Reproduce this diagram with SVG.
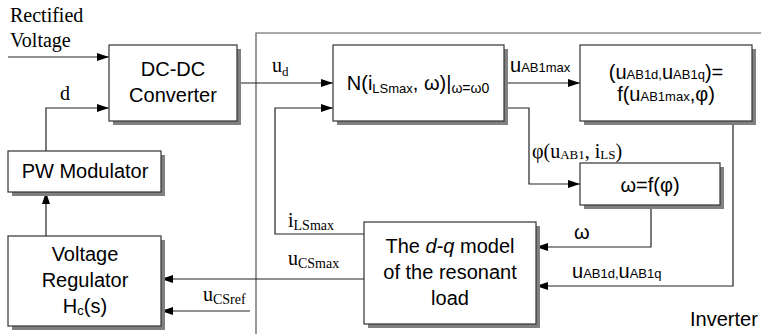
<svg xmlns="http://www.w3.org/2000/svg" width="761" height="334" viewBox="0 0 761 334">
<style>
.box{fill:#fff;stroke:#333;stroke-width:1.2}
.sh{fill:#808080}
.ln{fill:none;stroke:#222;stroke-width:1.2}
.fr{fill:none;stroke:#555;stroke-width:1.2}
.s{font-family:"Liberation Sans",Arial,sans-serif;font-size:20px;fill:#000}
.t{font-family:"Liberation Serif","Times New Roman",serif;font-size:20px;fill:#000}
.c{text-anchor:middle}
</style>
<defs>
<marker id="ah" markerUnits="userSpaceOnUse" markerWidth="13" markerHeight="9" refX="12" refY="4" orient="auto">
<path d="M0,0 L12,4 L0,8 z" fill="#000"/>
</marker>
</defs>

<g id="inverter-frame">
<path class="fr" d="M256,334 V33 H761"/>
<text class="s" x="690" y="326">Inverter</text>
</g>

<g id="connectors">
<path class="ln" d="M8,57 H109" marker-end="url(#ah)"/>
<path class="ln" d="M46,151 V108 H109" marker-end="url(#ah)"/>
<path class="ln" d="M46,236 V192" marker-end="url(#ah)"/>
<path class="ln" d="M237,83 H333" marker-end="url(#ah)"/>
<path class="ln" d="M364,234 H275 V108 H333" marker-end="url(#ah)"/>
<path class="ln" d="M504,83 H580" marker-end="url(#ah)"/>
<path class="ln" d="M504,108 H529 V184 H580" marker-end="url(#ah)"/>
<path class="ln" d="M651,205 V247 H536" marker-end="url(#ah)"/>
<path class="ln" d="M733,121 V286 H536" marker-end="url(#ah)"/>
<path class="ln" d="M364,279 H161" marker-end="url(#ah)"/>
<path class="ln" d="M250,311 H161" marker-end="url(#ah)"/>
</g>

<g id="labels">
<text class="t" x="10" y="22">Rectified</text>
<text class="t" x="10" y="47">Voltage</text>
<text class="t" x="60" y="100">d</text>
<text class="t" x="272" y="72">u<tspan font-size="13" dy="4">d</tspan></text>
<text class="s" x="510" y="72" font-size="21">u<tspan font-size="13" dy="0">AB1max</tspan></text>
<text class="t" x="532" y="158">φ(u<tspan font-size="13" dy="1">AB1</tspan><tspan dy="-1">, i</tspan><tspan font-size="13" dy="1">LS</tspan><tspan dy="-1">)</tspan></text>
<text class="s" x="574" y="239">ω</text>
<text class="s" x="572" y="278">u<tspan font-size="13">AB1d,</tspan>u<tspan font-size="13">AB1q</tspan></text>
<text class="t" x="288" y="227">i<tspan font-size="14" dy="3">LSmax</tspan></text>
<text class="t" x="288" y="265">u<tspan font-size="14" dy="3">CSmax</tspan></text>
<text class="t" x="203" y="301">u<tspan font-size="14" dy="3">CSref</tspan></text>
</g>

<g id="dcdc">
<rect class="sh" x="113" y="49" width="128" height="76"/>
<rect class="box" x="109" y="45" width="128" height="76"/>
<text class="s c" x="173" y="76">DC-DC</text>
<text class="s c" x="173" y="102">Converter</text>
</g>

<g id="pwm">
<rect class="sh" x="12" y="155" width="153" height="41"/>
<rect class="box" x="8" y="151" width="153" height="41"/>
<text class="s c" x="85" y="178">PW Modulator</text>
</g>

<g id="regulator">
<rect class="sh" x="12" y="240" width="153" height="90"/>
<rect class="box" x="8" y="236" width="153" height="90"/>
<text class="s c" x="85" y="261">Voltage</text>
<text class="s c" x="85" y="287">Regulator</text>
<text class="s c" x="85" y="313">H<tspan font-size="13" dy="2">c</tspan><tspan dy="-2">(s)</tspan></text>
</g>

<g id="nblock">
<rect class="sh" x="337" y="49" width="171" height="76"/>
<rect class="box" x="333" y="45" width="171" height="76"/>
<text class="s c" x="418" y="90">N(i<tspan font-size="13" dy="3">LSmax</tspan><tspan dy="-3">, ω)|</tspan><tspan font-size="14" dy="3">ω=ω0</tspan></text>
</g>

<g id="fblock">
<rect class="sh" x="584" y="49" width="172" height="76"/>
<rect class="box" x="580" y="45" width="172" height="76"/>
<text class="s c" x="666" y="79">(u<tspan font-size="13">AB1d,</tspan>u<tspan font-size="13">AB1q</tspan>)=</text>
<text class="s c" x="666" y="101">f(u<tspan font-size="13">AB1max</tspan>,φ)</text>
</g>

<g id="wblock">
<rect class="sh" x="584" y="167" width="140" height="42"/>
<rect class="box" x="580" y="163" width="140" height="42"/>
<text class="s c" x="650" y="192">ω=f(φ)</text>
</g>

<g id="dqblock">
<rect class="sh" x="368" y="226" width="172" height="102"/>
<rect class="box" x="364" y="222" width="172" height="102"/>
<text class="s c" x="450" y="253">The <tspan font-style="italic">d</tspan>-<tspan font-style="italic">q</tspan> model</text>
<text class="s c" x="450" y="279">of the resonant</text>
<text class="s c" x="450" y="305">load</text>
</g>
</svg>
